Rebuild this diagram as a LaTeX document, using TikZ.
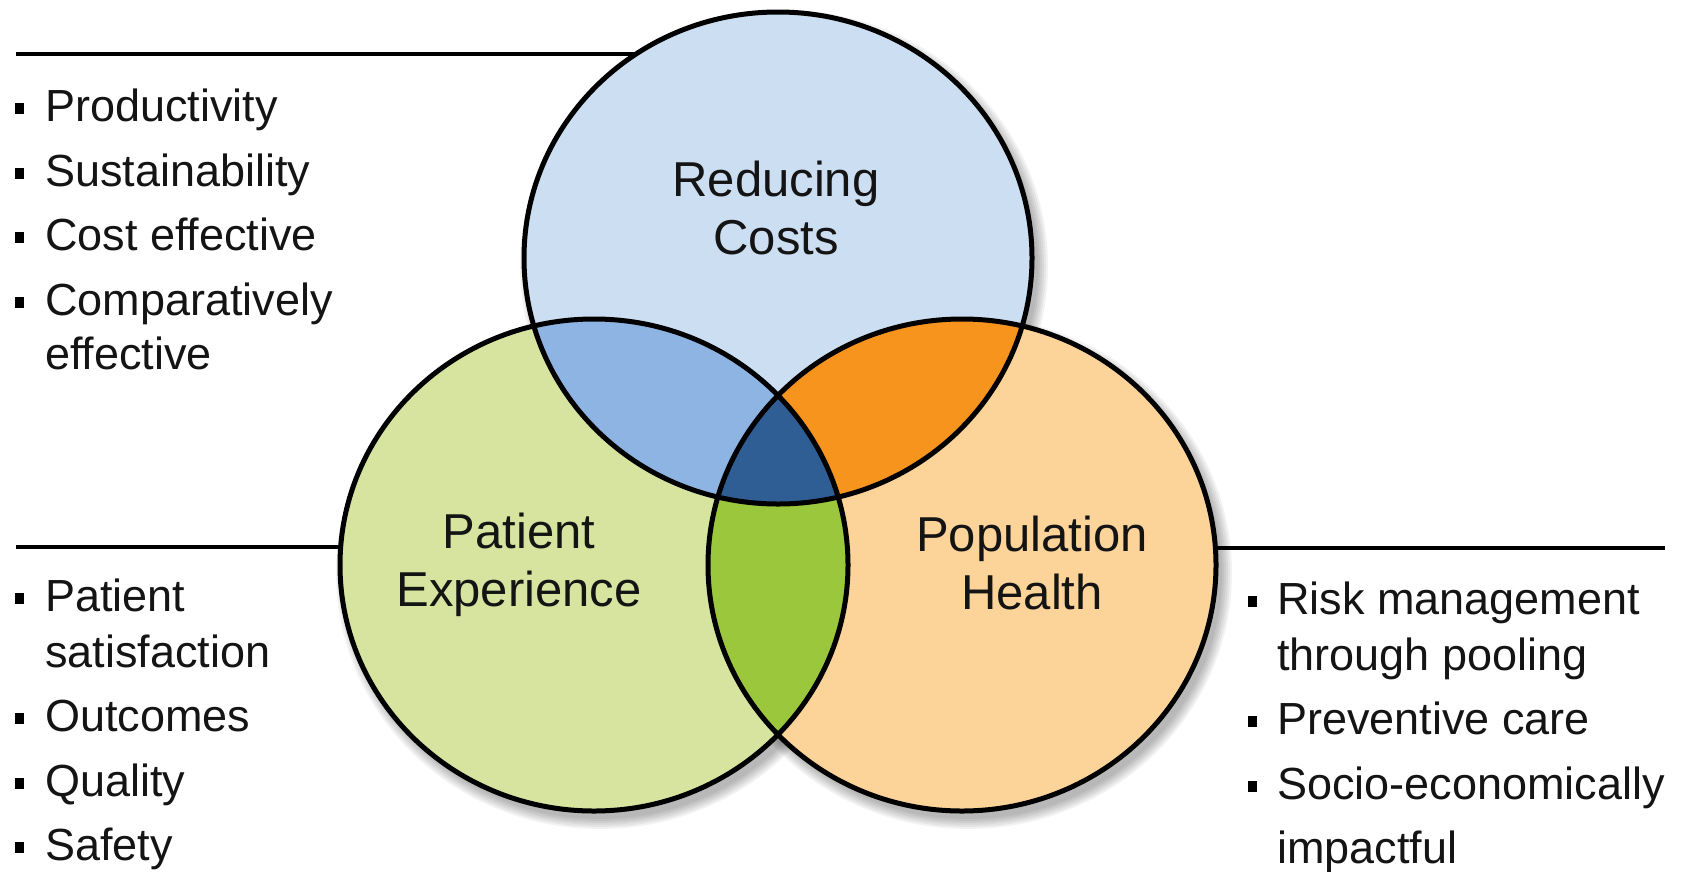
\documentclass[tikz,border=0pt]{standalone}
\usepackage{fontspec}
\setmainfont{Liberation Sans}
\usetikzlibrary{shapes.geometric}
\definecolor{topcol}{RGB}{204,222,241}
\definecolor{leftcol}{RGB}{215,228,160}
\definecolor{rightcol}{RGB}{252,212,154}
\definecolor{tlcol}{RGB}{141,180,226}
\definecolor{trcol}{RGB}{247,148,30}
\definecolor{lrcol}{RGB}{155,199,60}
\definecolor{allcol}{RGB}{47,94,149}
\definecolor{txt}{RGB}{20,20,20}
\tikzset{
  lst/.style={font=\fontsize{45}{54}\selectfont, anchor=base west, inner sep=0pt, text=txt},
  bul/.style={anchor=base west, inner sep=0pt, font=\fontsize{45}{54}\selectfont},
  lab/.style={font=\fontsize{49}{58}\selectfont, align=center, inner sep=0pt, text=txt},
  venn/.style={ellipse, minimum width=508pt, minimum height=492pt, inner sep=0pt},
  rule/.style={line width=4pt, black},
  outline/.style={line width=5pt, black}
}
\newcommand{\bsq}{\rule[0.15em]{0.19em}{0.24em}}
\begin{document}
\begin{tikzpicture}[x=1pt,y=-1pt]
\useasboundingbox (0,0) rectangle (1686,871);
\fill[white] (0,0) rectangle (1686,871);

% circle nodes (positions)
\node[venn] (topc) at (778,258) {};
\node[venn] (leftc) at (594,565) {};
\node[venn] (rightc) at (962,565) {};

% soft shadows
\foreach \c in {topc,leftc,rightc}{
  \foreach \k in {0,2,4,6,8,10}{
    \fill[black, opacity=0.05] ([shift={(6,8)}]\c.center) ellipse [x radius={254pt+\k pt}, y radius={246pt+\k pt}];
  }
}

% side rules
\coordinate (tl0) at (16,54);
\coordinate (ml0) at (16,547);
\coordinate (mr1) at (1665,548);
\draw[rule] (tl0) -- (tl0 -| topc.center);
\draw[rule] (ml0) -- (ml0 -| leftc.center);
\draw[rule] (mr1 -| rightc.center) -- (mr1);

% base fills
\fill[topcol] (topc.center) ellipse [x radius=254pt, y radius=246pt];
\fill[leftcol] (leftc.center) ellipse [x radius=254pt, y radius=246pt];
\fill[rightcol] (rightc.center) ellipse [x radius=254pt, y radius=246pt];
\begin{scope}
  \clip (topc.center) ellipse [x radius=254pt, y radius=246pt];
  \fill[tlcol] (leftc.center) ellipse [x radius=254pt, y radius=246pt];
  \fill[trcol] (rightc.center) ellipse [x radius=254pt, y radius=246pt];
\end{scope}
\begin{scope}
  \clip (leftc.center) ellipse [x radius=254pt, y radius=246pt];
  \fill[lrcol] (rightc.center) ellipse [x radius=254pt, y radius=246pt];
  \clip (rightc.center) ellipse [x radius=254pt, y radius=246pt];
  \fill[allcol] (topc.center) ellipse [x radius=254pt, y radius=246pt];
\end{scope}
\draw[outline] (topc.center) ellipse [x radius=254pt, y radius=246pt];
\draw[outline] (leftc.center) ellipse [x radius=254pt, y radius=246pt];
\draw[outline] (rightc.center) ellipse [x radius=254pt, y radius=246pt];

% circle labels
\node[lab] (labtop) at (776,208) {Reducing\\Costs};
\node[lab] (lableft) at (519,565) {Patient\\Experience};
\node[lab] (labright) at (1032,563) {Population\\Health};

% upper-left list
\node[bul] (b1) at (15,121) {\bsq};
\node[lst] (t1) at (45,121) {Productivity};
\node[bul] (b2) at (15,186) {\bsq};
\node[lst] (t2) at (45,186) {Sustainability};
\node[bul] (b3) at (15,250) {\bsq};
\node[lst] (t3) at (45,250) {Cost effective};
\node[bul] (b4) at (15,315) {\bsq};
\node[lst] (t4) at (45,315) {Comparatively};
\node[lst] (t4b) at (45,369) {effective};

% lower-left list
\node[bul] (b5) at (15,611) {\bsq};
\node[lst] (t5) at (45,611) {Patient};
\node[lst] (t5b) at (45,667) {satisfaction};
\node[bul] (b6) at (15,731) {\bsq};
\node[lst] (t6) at (45,731) {Outcomes};
\node[bul] (b7) at (15,796) {\bsq};
\node[lst] (t7) at (45,796) {Quality};
\node[bul] (b8) at (15,860) {\bsq};
\node[lst] (t8) at (45,860) {Safety};

% right list
\node[bul] (b9) at (1248,614) {\bsq};
\node[lst] (t9) at (1277,614) {Risk management};
\node[lst] (t9b) at (1277,670) {through pooling};
\node[bul] (b10) at (1248,734) {\bsq};
\node[lst] (t10) at (1277,734) {Preventive care};
\node[bul] (b11) at (1248,799) {\bsq};
\node[lst] (t11) at (1277,799) {Socio-economically};
\node[lst] (t11b) at (1277,863) {impactful};
\end{tikzpicture}
\end{document}
